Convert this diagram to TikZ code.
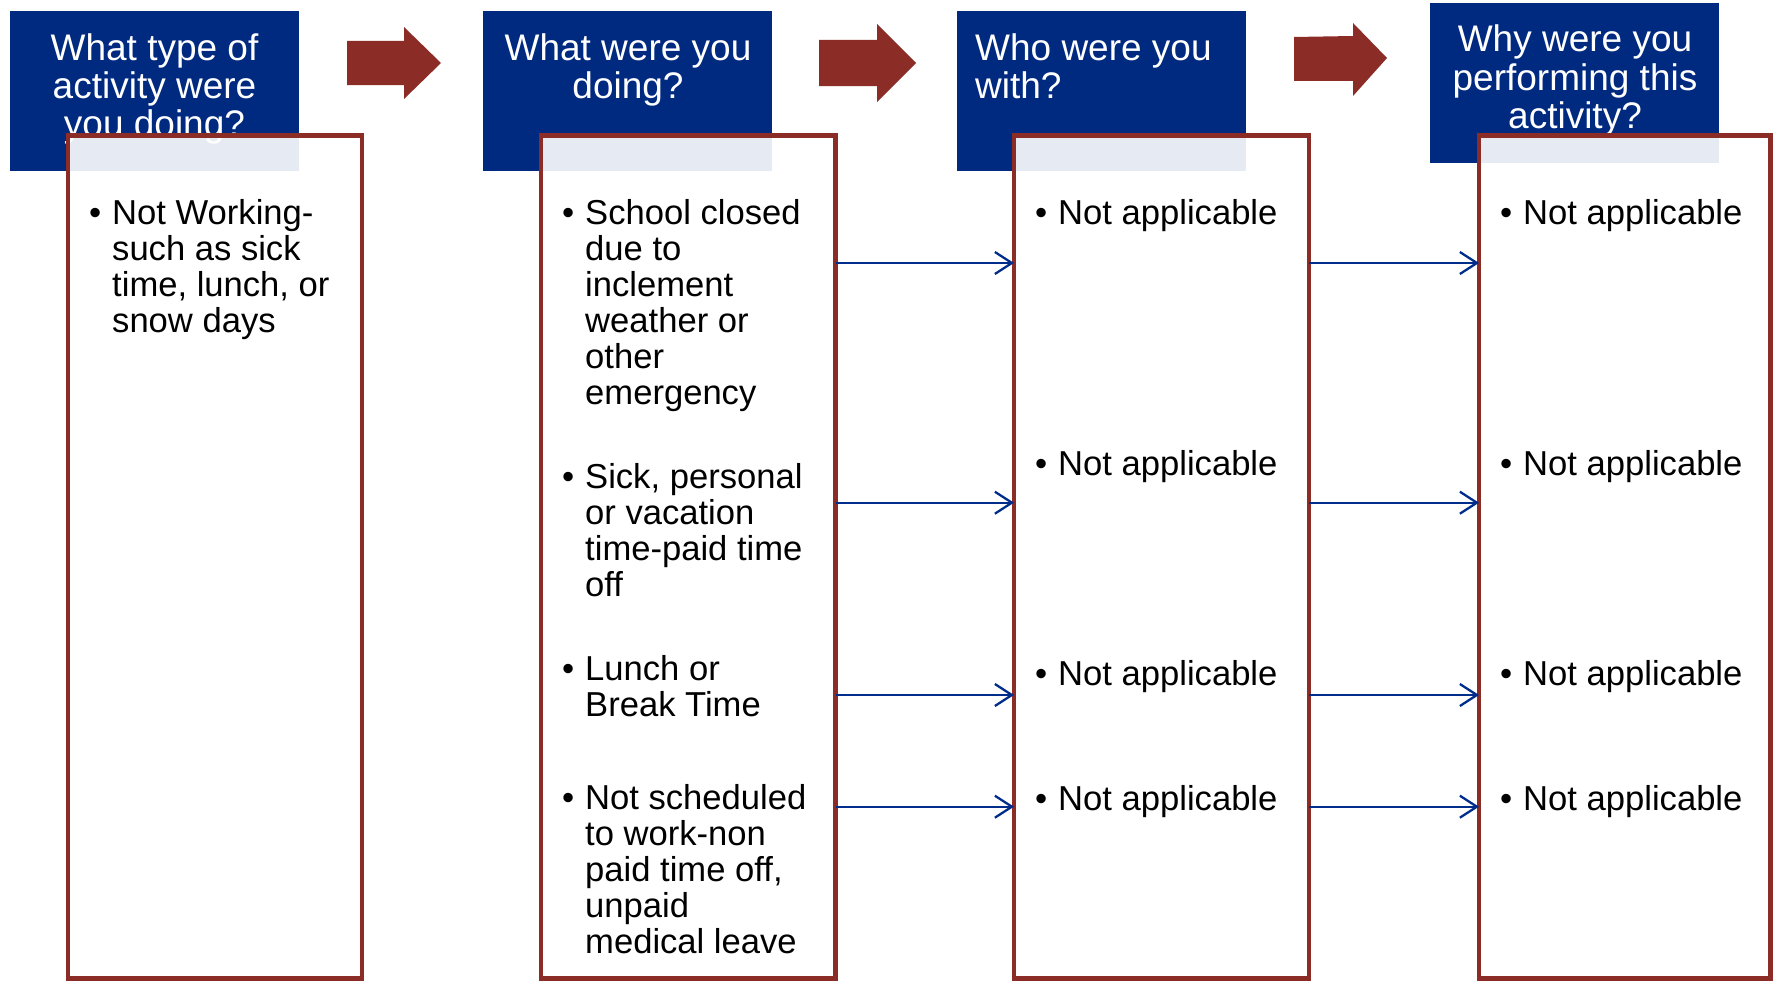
\documentclass[tikz,border=0pt]{standalone}
\usepackage{fontspec}
\setmainfont{Liberation Sans}
\usetikzlibrary{arrows.meta}
\definecolor{hblue}{RGB}{0,41,128}
\definecolor{bred}{RGB}{140,44,38}
\definecolor{ablue}{RGB}{0,45,140}
\newcommand\itm[1]{\makebox[23pt][l]{•}\begin{tabular}[t]{@{}l@{}}#1\end{tabular}}
\newcommand\hc[1]{\begin{tabular}[t]{@{}c@{}}#1\end{tabular}}
\newcommand\hl[1]{\begin{tabular}[t]{@{}l@{}}#1\end{tabular}}
\begin{document}
\begin{tikzpicture}[x=1pt,y=-1pt,
  hdr/.style={fill=hblue, draw=none, inner sep=0pt, outer sep=0pt, anchor=north west, minimum width=289pt, minimum height=160pt},
  colbox/.style={draw=bred, line width=4.5pt, fill=white, fill opacity=0.9, inner sep=0pt, outer sep=0pt, anchor=north west, minimum height=843pt},
  htext/.style={text=white, inner sep=0pt, font=\fontsize{37}{37.5}\selectfont},
  itext/.style={text=black, inner sep=0pt, anchor=base west, font=\fontsize{34.6}{36}\selectfont},
  blockarrow/.style={fill=bred},
  link/.style={draw=ablue, line width=2.3pt, -{Straight Barb[length=17pt,width=22pt,line width=2.3pt]}}]
\useasboundingbox (0,0) rectangle (1775,982);
% headers
\node[hdr] (h1) at (10,11) {};
\node[hdr] (h2) at (483,11) {};
\node[hdr] (h3) at (957,11) {};
\node[hdr] (h4) at (1430,3) {};
\node[htext, anchor=base] (t1) at (154.5,60) {\hc{What type of\\activity were\\you doing?}};
\node[htext, anchor=base] (t2) at (628,60) {\hc{What were you\\doing?}};
\node[htext, anchor=base west] (t3) at (975,60) {\hl{Who were you\\with?}};
\node[htext, anchor=base] (t4) at (1575,52) {\hc{Why were you\\performing this\\activity?}};
% block arrows
\fill[blockarrow] (347,41) -- (404,41) -- (404,27) -- (441,63) -- (404,99) -- (404,85) -- (347,85) -- cycle;
\fill[blockarrow] (819,40) -- (877,40) -- (877,24) -- (916,63) -- (877,102) -- (877,86) -- (819,86) -- cycle;
\fill[blockarrow] (1294,37) -- (1353,36) -- (1353,23) -- (1387,58) -- (1353,96) -- (1353,81) -- (1294,81) -- cycle;
% column boxes
\node[colbox, minimum width=294pt] (b1) at (68,135.5) {};
\node[colbox, minimum width=294.5pt] (b2) at (541,135.5) {};
\node[colbox, minimum width=295pt] (b3) at (1014,135.5) {};
\node[colbox, minimum width=291.5pt] (b4) at (1479,135.5) {};
% items
\node[itext] (i1) at (89,224) {\itm{Not Working-\\such as sick\\time, lunch, or\\snow days}};
\node[itext] (i2a) at (562,224) {\itm{School closed\\due to\\inclement\\weather or\\other\\emergency}};
\node[itext] (i2b) at (562,488) {\itm{Sick, personal\\or vacation\\time-paid time\\off}};
\node[itext] (i2c) at (562,680) {\itm{Lunch or\\Break Time}};
\node[itext] (i2d) at (562,809) {\itm{Not scheduled\\to work-non\\paid time off,\\unpaid\\medical leave}};
\node[itext] (i3a) at (1035,224) {\itm{Not applicable}};
\node[itext] (i3b) at (1035,475) {\itm{Not applicable}};
\node[itext] (i3c) at (1035,685) {\itm{Not applicable}};
\node[itext] (i3d) at (1035,810) {\itm{Not applicable}};
\node[itext] (i4a) at (1500,224) {\itm{Not applicable}};
\node[itext] (i4b) at (1500,475) {\itm{Not applicable}};
\node[itext] (i4c) at (1500,685) {\itm{Not applicable}};
\node[itext] (i4d) at (1500,810) {\itm{Not applicable}};
% connectors
\foreach \y [count=\i] in {263,502.7,695,806.7} {
  \coordinate (r\i) at (0,\y);
  \draw[link] (b2.east |- r\i) -- (b3.west |- r\i);
  \draw[link] (b3.east |- r\i) -- (b4.west |- r\i);
}
\end{tikzpicture}
\end{document}
